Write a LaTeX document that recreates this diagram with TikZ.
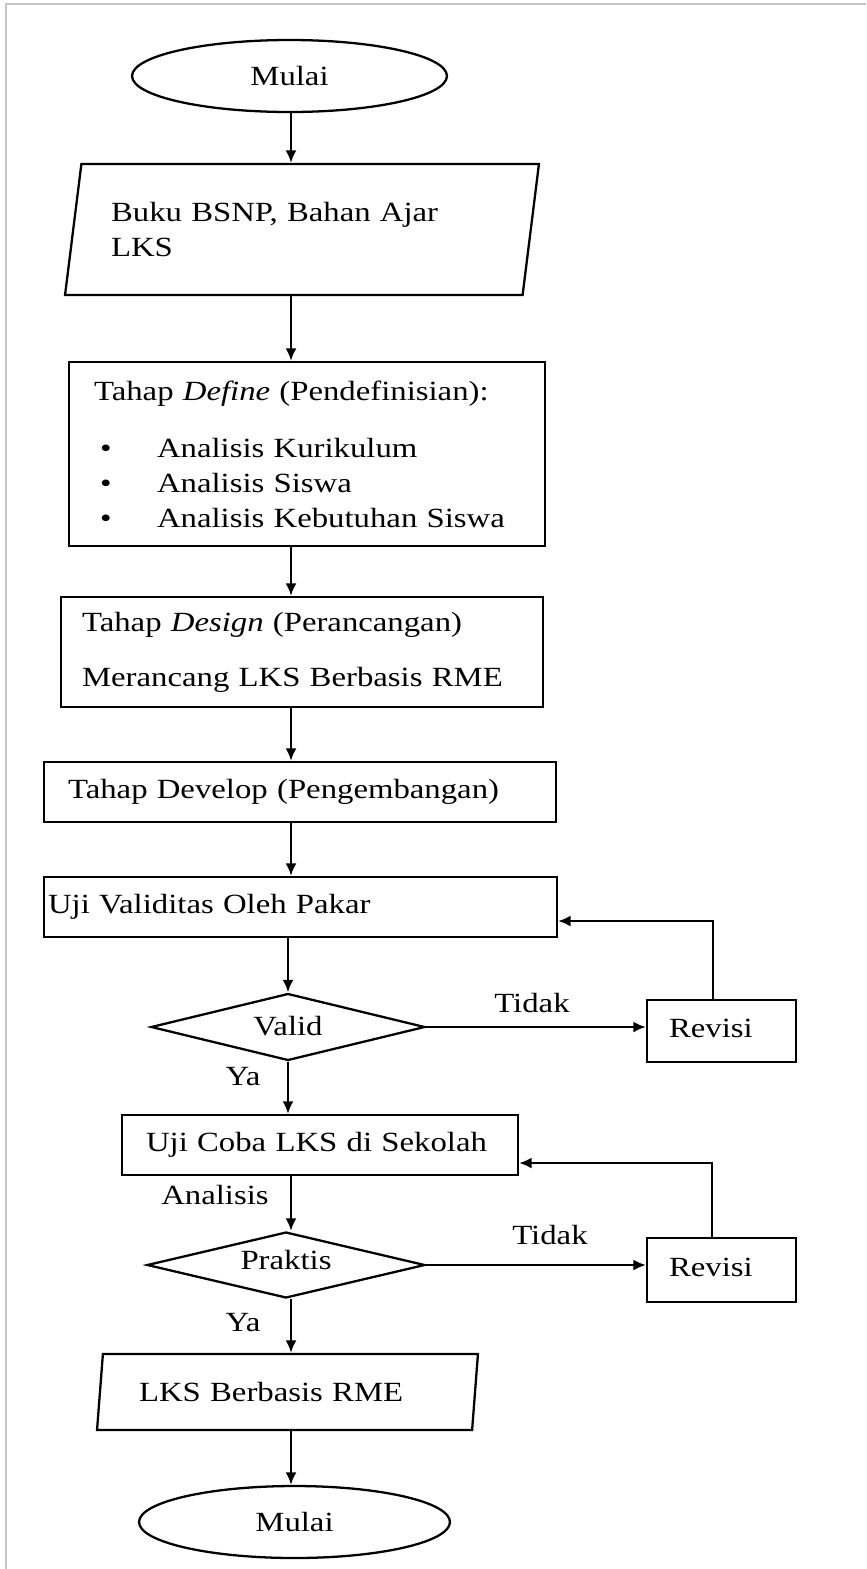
\documentclass[tikz,border=0pt]{standalone}
\usepackage{fontspec}
\setmainfont{Liberation Serif}[FakeStretch=1.18]
\usetikzlibrary{arrows.meta,shapes.geometric}

\begin{document}
\begin{tikzpicture}[>={Latex[length=0.25cm,width=0.22cm]}, x=0.02cm, y=-0.02cm, line width=1.3pt,
        every node/.style={font=\fontsize{15.8}{19.9}\selectfont}]
        \tikzset{block/.style={draw, rectangle, inner sep=0pt, align=left},
        io/.style={ % requires library shapes.geometric
        draw,
        trapezium,
        trapezium left angle=73.3,
        trapezium right angle=106.7,
        trapezium stretches body,
        inner sep=0pt,
        align=left
    },
        term/.style={draw, ellipse, inner sep=0pt},
        decision/.style={draw, diamond, aspect=4, inner sep=0pt},
        lbl/.style={inner sep=0pt}
        }
        \useasboundingbox (0,0) rectangle (866,1569);
        \draw[gray!45, line width=1.5pt] (6,1569) -- (6,4) -- (866,4);
        \coordinate (col) at (291,0);  %% column of the main flow

        \node [term, minimum width=6.3cm, minimum height=1.44cm] (start) at (289.5,76) {Mulai};
        \node [io, minimum width=9.48cm, minimum height=2.62cm, text width=7.64cm] (buku) at (302,229.5) {Buku BSNP, Bahan Ajar\\ LKS};
        \node [block, minimum width=9.52cm, minimum height=3.68cm, text width=8.52cm] (define) at (307,454)
            {Tahap \textit{Define} (Pendefinisian):\\[0.44cm]
             \hspace*{0.12cm}\makebox[1.14cm][l]{\textbullet}Analisis Kurikulum\\
             \hspace*{0.12cm}\makebox[1.14cm][l]{\textbullet}Analisis Siswa\\
             \hspace*{0.12cm}\makebox[1.14cm][l]{\textbullet}\mbox{Analisis Kebutuhan Siswa}};
        \node [block, minimum width=9.64cm, minimum height=2.2cm, text width=8.8cm] (design) at (302,652)
            {Tahap \textit{Design} (Perancangan)\\[0.4cm] Merancang LKS Berbasis RME};
        \node [block, minimum width=10.24cm, minimum height=1.2cm, text width=9.28cm] (develop) at (300,792) {Tahap Develop (Pengembangan)};
        \node [block, minimum width=10.26cm, minimum height=1.2cm, text width=10.1cm] (uji) at (300.5,907) {Uji Validitas Oleh Pakar};
        \node [decision, minimum width=5.48cm, minimum height=1.34cm] (valid) at (288,1027) {\raisebox{0.06cm}{Valid}};
        \node [block, minimum width=2.98cm, minimum height=1.24cm, text width=2.1cm] (revisi1) at (721.5,1031) {\raisebox{0.12cm}{Revisi}};
        \node [block, minimum width=7.92cm, minimum height=1.2cm, text width=6.96cm] (ujicoba) at (320,1145) {Uji Coba LKS di Sekolah};
        \node [decision, minimum width=5.56cm, minimum height=1.32cm] (praktis) at (286,1265) {\raisebox{0.2cm}{Praktis}};
        \node [block, minimum width=2.98cm, minimum height=1.28cm, text width=2.1cm] (revisi2) at (721.5,1270) {\raisebox{0.12cm}{Revisi}};
        \node [io, minimum width=7.62cm, minimum height=1.52cm, text width=5.94cm] (lks) at (287.5,1392) {LKS Berbasis RME};
        \node [term, minimum width=6.22cm, minimum height=1.44cm] (finish) at (294.5,1522) {Mulai};

        \node [lbl] (tidak1) at (532,1003) {Tidak};
        \node [lbl] (ya1) at (243,1077) {Ya};
        \node [lbl] (analisis) at (215,1195) {Analisis};
        \node [lbl] (tidak2) at (550,1235) {Tidak};
        \node [lbl] (ya2) at (243,1323) {Ya};

        \coordinate (fb1) at (713,921);   %% corner of the first loop back
        \coordinate (fb2) at (712,1163);  %% corner of the second loop back

%% paths
        \draw[->] (start.south -| col) -- (buku.north -| col);
        \draw[->] (buku.south -| col) -- (define.north -| col);
        \draw[->] (define.south -| col) -- (design.north -| col);
        \draw[->] (design.south -| col) -- (develop.north -| col);
        \draw[->] (develop.south -| col) -- (uji.north -| col);
        \draw[->] (uji.south -| valid) -- (valid.north);
        \draw[->] (valid.south) -- (valid.south |- ujicoba.north);
        \draw[->] (valid.east) -- (valid.east -| revisi1.west);
        \draw[->] (revisi1.north -| fb1) -- (fb1) -- (fb1 -| uji.east);
        \draw[->] (ujicoba.south -| col) -- (praktis.north -| col);
        \draw[->] (praktis.south -| col) -- (lks.north -| col);
        \draw[->] (praktis.east) -- (praktis.east -| revisi2.west);
        \draw[->] (revisi2.north -| fb2) -- (fb2) -- (fb2 -| ujicoba.east);
        \draw[->] (lks.south -| col) -- (finish.north -| col);
\end{tikzpicture}
\end{document}
